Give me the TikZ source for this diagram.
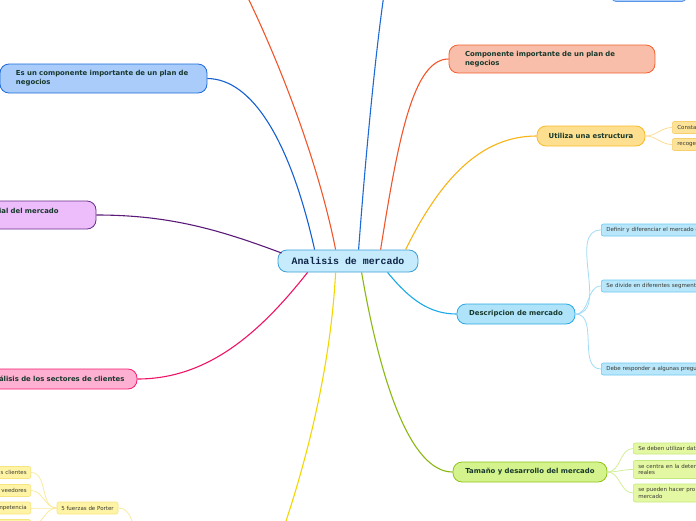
\documentclass[tikz,border=0pt]{standalone}
\usepackage{fontspec}
\setmainfont{DejaVu Sans}
\newfontfamily\cmono{Liberation Mono}
\usetikzlibrary{calc}
\definecolor{txt}{HTML}{17382C}
\definecolor{ctxt}{HTML}{3A3A30}
\definecolor{navy}{HTML}{0D2446}
\definecolor{cfill}{HTML}{C6EBFC}\definecolor{cdraw}{HTML}{3C9FD8}
\definecolor{bfill}{HTML}{A9CCFB}\definecolor{bdraw}{HTML}{1D6AD6}\definecolor{bedge}{HTML}{1560D2}
\definecolor{ofill}{HTML}{F8BEA9}\definecolor{odraw}{HTML}{F2602E}\definecolor{oedge}{HTML}{F0562A}
\definecolor{yfill}{HTML}{FDDF8F}\definecolor{ydraw}{HTML}{F9B927}\definecolor{yedge}{HTML}{F8B416}
\definecolor{ycfill}{HTML}{FDE39A}\definecolor{ycdraw}{HTML}{F8CF6E}\definecolor{ycedge}{HTML}{FCDC96}
\definecolor{pfill}{HTML}{ECBDFA}\definecolor{pdraw}{HTML}{6B2C8C}\definecolor{pedge}{HTML}{5A1A78}
\definecolor{kfill}{HTML}{FEB0D2}\definecolor{kdraw}{HTML}{F31B72}\definecolor{kedge}{HTML}{EF1265}
\definecolor{lfill}{HTML}{AEE3F9}\definecolor{ldraw}{HTML}{2AA8E2}\definecolor{ledge}{HTML}{1AAAE8}
\definecolor{lcfill}{HTML}{B8E6FB}\definecolor{lcdraw}{HTML}{6CC8F0}\definecolor{lcedge}{HTML}{A2DBF5}
\definecolor{gfill}{HTML}{D5F38C}\definecolor{gdraw}{HTML}{8DC317}\definecolor{gedge}{HTML}{8AB812}
\definecolor{gcfill}{HTML}{E4F8A4}\definecolor{gcdraw}{HTML}{C4E87A}\definecolor{gcedge}{HTML}{D3EE9A}
\definecolor{wedge}{HTML}{F2D600}
\definecolor{wcfill}{HTML}{FFF4A6}\definecolor{wcdraw}{HTML}{F6E47E}\definecolor{wcedge}{HTML}{F8EBA0}
\definecolor{tdraw}{HTML}{5A94E6}
\begin{document}
\begin{tikzpicture}[x=1pt,y=-1pt,
  mainbox/.style={rounded corners=9pt, line width=0.8pt, inner sep=0pt, align=left,
    font=\bfseries\fontsize{6.9}{9}\selectfont, text=txt},
  childbox/.style={rounded corners=2pt, line width=0.6pt, inner ysep=0pt, inner xsep=5pt,
    minimum height=12pt, font=\fontsize{5.5}{6.3}\selectfont, text=ctxt, align=left, anchor=west},
  medge/.style={line width=1.1pt},
  cedge/.style={line width=0.8pt}]
\useasboundingbox (0,0) rectangle (696,520);
\clip (0,0) rectangle (696,520);

% central
\node[rounded corners=9pt, line width=0.8pt, fill=cfill, draw=cdraw, minimum width=140pt,
  minimum height=22pt, inner sep=0pt, font=\cmono\bfseries\fontsize{9.9}{11}\selectfont, text=navy]
  (c) at (348,261) {Analisis de mercado};

% main branches
\node[mainbox, fill=bfill, draw=bdraw, minimum width=207pt, minimum height=29pt, text width=175pt]
  (es) at (103.5,78.5) {Es un componente importante de un plan de\\negocios};
\node[mainbox, fill=ofill, draw=odraw, minimum width=206pt, minimum height=28pt, text width=174pt]
  (comp) at (552,59) {Componente importante de un plan de\\negocios};
\node[mainbox, fill=yfill, draw=ydraw, minimum width=108pt, minimum height=20pt, align=center]
  (util) at (591,136) {Utiliza una estructura};
\node[mainbox, fill=pfill, draw=pdraw, minimum width=124pt, minimum height=28pt, text width=70pt]
  (pot) at (34,215) {ial del mercado\\\mbox{}};
\node[mainbox, fill=kfill, draw=kdraw, minimum width=148pt, minimum height=20pt, text width=128pt]
  (sec) at (63,379) {álisis de los sectores de clientes};
\node[mainbox, fill=lfill, draw=ldraw, minimum width=118pt, minimum height=20pt, align=center]
  (desc) at (516,314) {Descripcion de mercado};
\node[mainbox, fill=gfill, draw=gdraw, minimum width=154pt, minimum height=20pt, align=center]
  (tam) at (530,472) {Tamaño y desarrollo del mercado};
\node[rounded corners=4pt, line width=0.8pt, fill=bfill, draw=tdraw, minimum width=74pt,
  minimum height=19pt, inner sep=0pt] (top) at (649,-8) {};

% off-picture ends
\coordinate (topA) at (248,-2);
\coordinate (topB) at (383.5,-2);
\coordinate (botY) at (283,530);
\coordinate (porterUp) at (134,530);

% main connectors
\draw[medge, bedge] ($(c.north west)+(37,0)$) .. controls (290,140) and (252,79) .. (es.east);
\draw[medge, oedge] ($(c.north west)+(58,0)$) .. controls (318,160) and (278,60) .. (topA);
\draw[medge, bdraw] ($(c.north west)+(81,0)$) .. controls (366,150) and (376,50) .. (topB);
\draw[medge, oedge] ($(c.north west)+(103,0)$) .. controls (398,140) and (413,59) .. (comp.west);
\draw[medge, yedge] ($(c.north west)+(128,0)$) .. controls (440,180) and (480,136) .. (util.west);
\draw[medge, pedge] ($(c.west)+(4,-8)$) .. controls (220,230) and (170,215) .. (pot.east);
\draw[medge, kedge] ($(c.south west)+(30,0)$) .. controls (262,330) and (210,379) .. (sec.east);
\draw[medge, wedge] ($(c.south west)+(58,0)$) .. controls (330,380) and (300,480) .. (botY);
\draw[medge, gedge] ($(c.south west)+(84,0)$) .. controls (380,380) and (410,472) .. (tam.west);
\draw[medge, ledge] ($(c.south west)+(110,0)$) .. controls (410,300) and (430,314) .. (desc.west);

% Utiliza children
\node[childbox, fill=ycfill, draw=ycdraw, text width=50pt] (u1) at (672,127.5) {Consta};
\node[childbox, fill=ycfill, draw=ycdraw, text width=50pt] (u2) at (672,144.5) {recoge};
\draw[cedge, ycedge] (util.east) to[out=0,in=180] (u1.west);
\draw[cedge, ycedge] (util.east) to[out=0,in=180] (u2.west);

% Descripcion children
\node[childbox, fill=lcfill, draw=lcdraw, text width=110pt] (d1) at (601,230) {Definir y diferenciar el mercado o};
\node[childbox, fill=lcfill, draw=lcdraw, text width=110pt] (d2) at (601,286) {Se divide en diferentes segmentos};
\node[childbox, fill=lcfill, draw=lcdraw, text width=110pt] (d3) at (601,369) {Debe responder a algunas pregu};
\draw[cedge, lcedge] (desc.east) to[out=0,in=180] (d1.west);
\draw[cedge, lcedge] (desc.east) to[out=0,in=180] (d2.west);
\draw[cedge, lcedge] (desc.east) to[out=0,in=180] (d3.west);

% Tamano children
\node[childbox, fill=gcfill, draw=gcdraw, text width=80pt, minimum height=11pt] (t1) at (633,448.5) {Se deben utilizar dat};
\node[childbox, fill=gcfill, draw=gcdraw, text width=80pt, minimum height=18pt] (t2) at (633,469.5) {se centra en la deter\\reales};
\node[childbox, fill=gcfill, draw=gcdraw, text width=80pt, minimum height=18pt] (t3) at (633,493) {se pueden hacer pro\\mercado};
\draw[cedge, gcedge] (tam.east) to[out=0,in=180] (t1.west);
\draw[cedge, gcedge] (tam.east) to[out=0,in=180] (t2.west);
\draw[cedge, gcedge] (tam.east) to[out=0,in=180] (t3.west);

% Porter
\node[childbox, anchor=center, align=center, fill=wcfill, draw=wcdraw, minimum width=61pt, inner xsep=0pt]
  (porter) at (87.5,508) {5 fuerzas de Porter};
\node[childbox, anchor=east, align=right, text width=70pt, inner xsep=4pt, fill=wcfill, draw=wcdraw] (f1) at (31,472.5) {s clientes};
\node[childbox, anchor=east, align=right, text width=70pt, inner xsep=4pt, fill=wcfill, draw=wcdraw] (f2) at (31,490.5) {veedores};
\node[childbox, anchor=east, align=right, text width=70pt, inner xsep=4pt, fill=wcfill, draw=wcdraw] (f3) at (31,508) {mpetencia};
\node[childbox, anchor=east, align=right, text width=70pt, inner xsep=4pt, fill=wcfill, draw=wcdraw] (f4) at (31,525.5) {};
\draw[cedge, wcedge] (porter.west) to[out=180,in=0] (f1.east);
\draw[cedge, wcedge] (porter.west) to[out=180,in=0] (f2.east);
\draw[cedge, wcedge] (porter.west) to[out=180,in=0] (f3.east);
\draw[cedge, wcedge] (porter.west) to[out=180,in=0] (f4.east);
\draw[cedge, wcedge] (porter.east) to[out=0,in=100] (porterUp);
\end{tikzpicture}
\end{document}
